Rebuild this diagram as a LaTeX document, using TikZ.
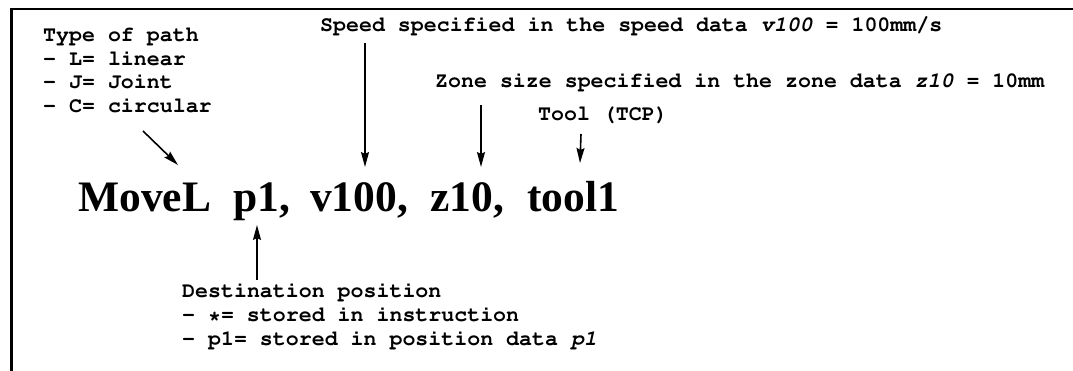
\documentclass[tikz,border=0pt]{standalone}
\usepackage[T1,TU]{fontenc}
\usepackage{fontspec}
\setmainfont{Liberation Serif}
\usetikzlibrary{arrows.meta}
% bold Courier for the annotations
\newcommand\courierbold{\fontencoding{T1}\fontfamily{pcr}\fontseries{b}\selectfont}
\tikzset{
  note/.style={font=\fontsize{21.6}{23.7}\selectfont\courierbold, inner sep=0pt, anchor=base west},
  word/.style={font=\fontsize{43.5}{50}\selectfont\bfseries, inner sep=0pt, anchor=base west},
  arr/.style={line width=1.6pt, -{Stealth[length=15pt, width=8pt, inset=2pt]}},
  frame/.style={line width=2.2pt}
}
\begin{document}
\begin{tikzpicture}[x=1pt, y=-1pt]
  \useasboundingbox[fill=white] (0,0) rectangle (1073,371);
  % open frame: top edge and left edge
  \draw[frame] (11.5,371) -- (11.5,9) -- (1073,9);

  % instruction line
  \node[word] (mv)    at (78,212)  {MoveL};
  \node[word] (p1)    at (233,212) {p1,};
  \node[word] (v100)  at (310,212) {v100,};
  \node[word] (z10)   at (430,212) {z10,};
  \node[word] (tool1) at (527,212) {tool1};

  % annotations
  \node[note] (type1) at (43,42)  {Type of path};
  \node[note] (type2) at (43,65.5)  {- L= linear};
  \node[note] (type3) at (43,89) {- J= Joint};
  \node[note] (type4) at (43,113) {- C= circular};

  \node[note] (speed) at (320,32)  {Speed specified in the speed data {\itshape v100} = 100mm/s};
  \node[note] (zone)  at (435,88)  {Zone size specified in the zone data {\itshape z10} = 10mm};
  \node[note] (tool)  at (538,121) {Tool (TCP)};

  \node[note] (dest1) at (182,298)   {Destination position};
  \node[note] (dest2) at (182,321.7) {- *= stored in instruction};
  \node[note] (dest3) at (182,345.4) {- p1= stored in position data {\itshape p1}};

  % pointers
  \draw[arr] ([shift={(100,18)}]type4.base west) -- ([shift={(100,-47)}]mv.base west);
  \draw[arr] ([shift={(45,11)}]speed.base west) -- ([shift={(55,-45)}]v100.base west);
  \draw[arr] ([shift={(46,17)}]zone.base west) -- ([shift={(51,-45)}]z10.base west);
  \draw[arr] ([shift={(43,13)}]tool.base west) -- ([shift={(53,-49)}]tool1.base west);
  \draw[arr] ([shift={(75,-18)}]dest1.base west) -- ([shift={(24,13)}]p1.base west);
\end{tikzpicture}
\end{document}
